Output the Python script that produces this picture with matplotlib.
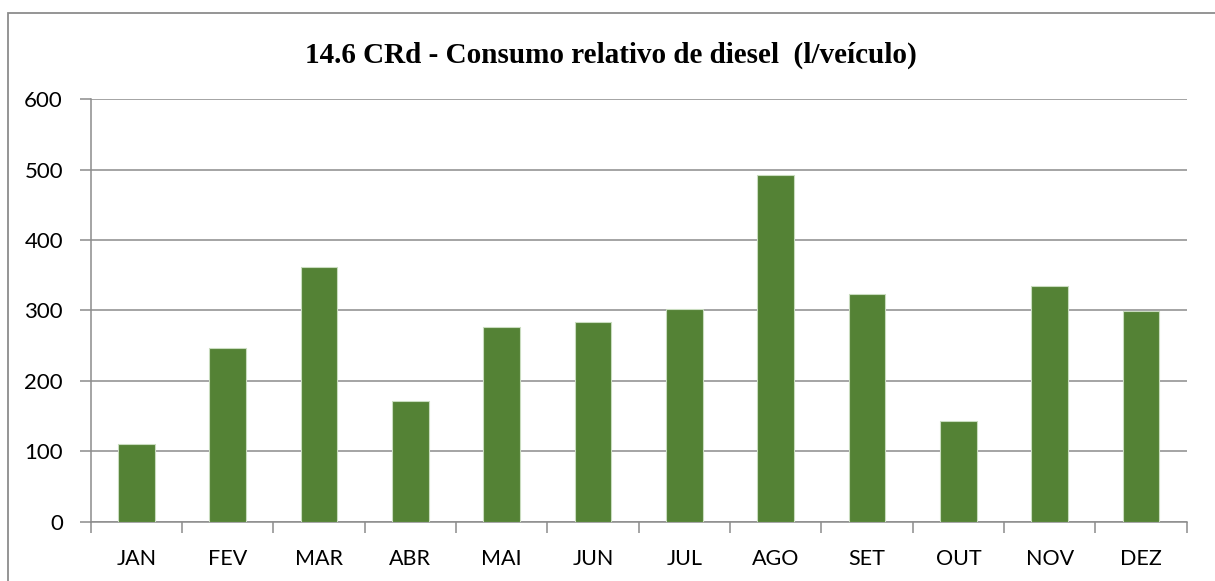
import numpy as np
from matplotlib import pyplot as plt
from matplotlib.patches import Rectangle

months = ['JAN', 'FEV', 'MAR', 'ABR', 'MAI', 'JUN', 'JUL', 'AGO', 'SET', 'OUT', 'NOV', 'DEZ']
consumo = [111, 247, 362, 171, 276, 283, 302, 492, 324, 143, 335, 299]
y_ticks = [0, 100, 200, 300, 400, 500, 600]

title = '14.6 CRd - Consumo relativo de diesel  (l/veículo)'

fig = plt.figure(figsize=(12.15, 5.81), dpi=100)
ax = fig.add_axes([0.0747, 0.1021, 0.9020, 0.7270])

# outer chart frame (cut off on right and bottom like the original)
fig.patches.append(Rectangle((8 / 1215, -0.05), 1.2, (581 - 13) / 581 + 0.05,
                             transform=fig.transFigure, fill=False,
                             edgecolor='#8c8c8c', linewidth=1.3))

x = np.arange(len(months))
ax.bar(x, consumo, width=0.4, color='#548235', edgecolor='#c9dcbf', linewidth=0.8, zorder=3)

ax.set_xlim(-0.5, len(months) - 0.5)
ax.set_ylim(0, 600)
ax.set_yticks(y_ticks)
ax.set_yticklabels([str(v) for v in y_ticks], fontsize=16, fontfamily='Lato')
ax.yaxis.grid(True, color='#8c8c8c', linewidth=1.1, zorder=0)

# month labels at bar centres, tick marks at category borders
ax.set_xticks(x)
ax.set_xticklabels(months, fontsize=15.5, fontfamily='Lato')
ax.tick_params(axis='x', length=0, pad=20)
ax.set_xticks(np.arange(-0.5, len(months)), minor=True)
ax.tick_params(axis='x', which='minor', length=8, color='#8c8c8c', width=1.1)
ax.tick_params(axis='y', length=8, color='#8c8c8c', width=1.1, pad=12)

for side in ['top', 'right']:
    ax.spines[side].set_visible(False)
for side in ['left', 'bottom']:
    ax.spines[side].set_color('#8c8c8c')
    ax.spines[side].set_linewidth(1.1)

fig.text(0.503, 0.905, title, ha='center', va='center', fontsize=21,
         fontweight='bold', fontfamily='Liberation Serif')

plt.savefig('out.png', dpi=100)
